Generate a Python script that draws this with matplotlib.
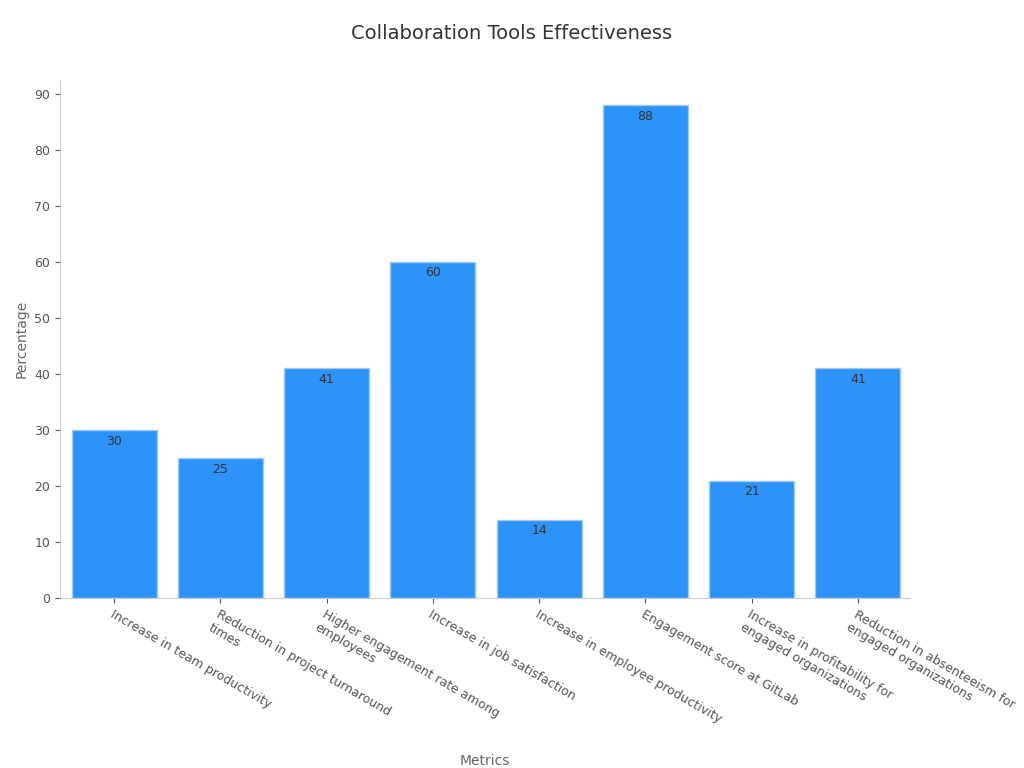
import matplotlib
matplotlib.use("Agg")
import matplotlib.pyplot as plt

categories = ["Increase in team productivity", "Reduction in project turnaround\ntimes",
              "Higher engagement rate among\nemployees", "Increase in job satisfaction",
              "Increase in employee productivity", "Engagement score at GitLab",
              "Increase in profitability for\nengaged organizations",
              "Reduction in absenteeism for\nengaged organizations"]
values = [30, 25, 41, 60, 14, 88, 21, 41]

fig = plt.figure(figsize=(10.24, 7.68), dpi=100)
ax = fig.add_axes([0.0586, 0.221, 0.83, 0.675])

x = range(len(values))
bars = ax.bar(x, values, width=0.8, color="#2E93F8", edgecolor="#9ccaf5", linewidth=1)
for xi, v in zip(x, values):
    ax.text(xi, v - 0.8, str(v), ha="center", va="top", fontsize=9, color="#333333")

ax.set_xlim(-0.51, 7.49)
ax.set_ylim(0, 92.5)
ax.set_yticks(range(0, 91, 10))
ax.set_xticks(list(x))
ax.set_xticklabels(categories, rotation=-30, ha="left", rotation_mode="anchor", fontsize=9, color="#222222")
ax.tick_params(axis="y", labelsize=9, colors="#222222")
ax.tick_params(colors="#555555")
for s in ["top", "right"]:
    ax.spines[s].set_visible(False)
for s in ["left", "bottom"]:
    ax.spines[s].set_color("#cccccc")

ax.set_xlabel("Metrics", fontsize=10, color="#666666", labelpad=15)
ax.set_ylabel("Percentage", fontsize=10, color="#666666")
fig.text(0.5, 0.957, "Collaboration Tools Effectiveness", ha="center", va="center", fontsize=14, color="#333333")

fig.savefig("out.png", dpi=100)
